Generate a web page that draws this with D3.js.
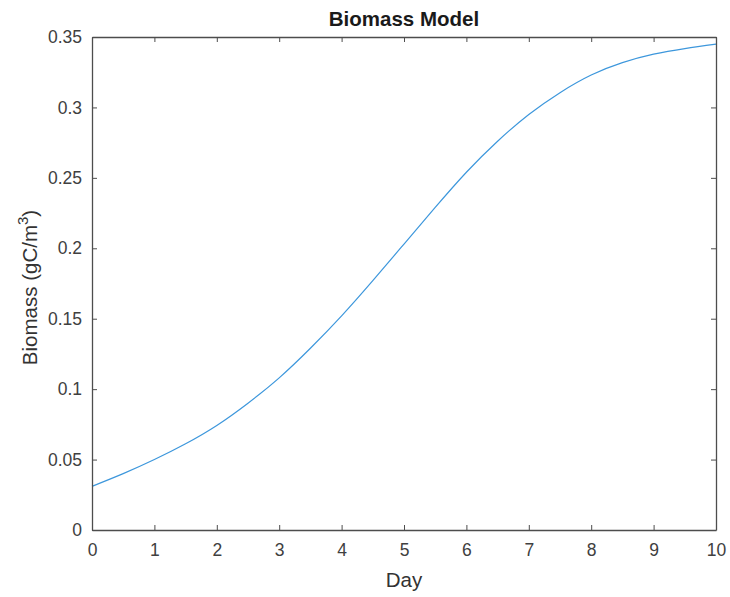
<!DOCTYPE html>
<html>
<head>
<meta charset="utf-8">
<script src="https://cdn.jsdelivr.net/npm/d3@7"></script>
<style>
  body { margin: 0; background: #fff; }
  svg text { font-family: "Liberation Sans", Arial, sans-serif; }
</style>
</head>
<body>
<div id="chart"></div>
<script>
// values
const days = [0, 0.5, 1, 1.5, 2, 2.5, 3, 3.5, 4, 4.5, 5, 5.5, 6, 6.5, 7, 7.5, 8, 8.5, 9, 9.5, 10];
const biomass = [0.031, 0.040, 0.050, 0.0612, 0.0742, 0.090, 0.108, 0.129, 0.152, 0.177, 0.203,
  0.229, 0.254, 0.276, 0.295, 0.3105, 0.323, 0.3318, 0.3378, 0.3418, 0.345];
const xTicks = [0, 1, 2, 3, 4, 5, 6, 7, 8, 9, 10];
const yTicks = [0, 0.05, 0.1, 0.15, 0.2, 0.25, 0.3, 0.35];

const W = 730, H = 597;
const margin = { top: 37, right: 14, bottom: 67, left: 92 };
const width = W - margin.left - margin.right;
const height = H - margin.top - margin.bottom;
const axisColor = '#4d4d4d';

const svg = d3.select('#chart').append('svg')
  .attr('width', W)
  .attr('height', H);

const g = svg.append('g')
  .attr('transform', 'translate(' + margin.left + ',' + margin.top + ')');

const x = d3.scaleLinear().domain([0, 10]).range([0, width]);
const y = d3.scaleLinear().domain([0, 0.35]).range([height, 0]);

// line
const data = days.map((d, i) => ({ day: d, b: biomass[i] }));
const line = d3.line()
  .x(d => x(d.day))
  .y(d => y(d.b))
  .curve(d3.curveNatural);

g.append('path')
  .datum(data)
  .attr('fill', 'none')
  .attr('stroke', '#3d97dc')
  .attr('stroke-width', 1.2)
  .attr('d', line);

// axes, ticks inward, box all round
function styleAxis(sel) {
  sel.select('.domain').attr('stroke', axisColor).attr('stroke-width', 1.3);
  sel.selectAll('.tick line').attr('stroke', axisColor);
  sel.selectAll('.tick text')
    .attr('fill', '#404040')
    .style('font-size', '17.5px');
}

g.append('g')
  .attr('transform', 'translate(0,' + height + ')')
  .call(d3.axisBottom(x).tickValues(xTicks).tickSize(-5).tickSizeOuter(0).tickPadding(14).tickFormat(d3.format('d')))
  .call(styleAxis);

g.append('g')
  .call(d3.axisTop(x).tickValues(xTicks).tickSize(-5).tickSizeOuter(0).tickFormat(''))
  .call(styleAxis);

g.append('g')
  .call(d3.axisLeft(y).tickValues(yTicks).tickSize(-5).tickSizeOuter(0).tickPadding(10).tickFormat(d => d === 0 ? '0' : String(+d.toFixed(2))))
  .call(styleAxis);

g.append('g')
  .attr('transform', 'translate(' + width + ',0)')
  .call(d3.axisRight(y).tickValues(yTicks).tickSize(-5).tickSizeOuter(0).tickFormat(''))
  .call(styleAxis);

// title
svg.append('text')
  .attr('x', margin.left + width / 2)
  .attr('y', 26)
  .attr('text-anchor', 'middle')
  .style('font-size', '20.5px')
  .style('font-weight', 'bold')
  .attr('fill', '#1a1a1a')
  .text('Biomass Model');

// x label
svg.append('text')
  .attr('x', margin.left + width / 2)
  .attr('y', 587)
  .attr('text-anchor', 'middle')
  .style('font-size', '20.5px')
  .attr('fill', '#333')
  .text('Day');

// y label with superscript
const yl = svg.append('text')
  .attr('transform', 'translate(37,' + (margin.top + height / 2 + 4) + ') rotate(-90)')
  .attr('text-anchor', 'middle')
  .style('font-size', '20.5px')
  .attr('fill', '#333');
yl.append('tspan').text('Biomass (gC/m');
yl.append('tspan').attr('dy', -9).style('font-size', '15px').text('3');
yl.append('tspan').attr('dy', 9).text(')');
</script>
</body>
</html>
